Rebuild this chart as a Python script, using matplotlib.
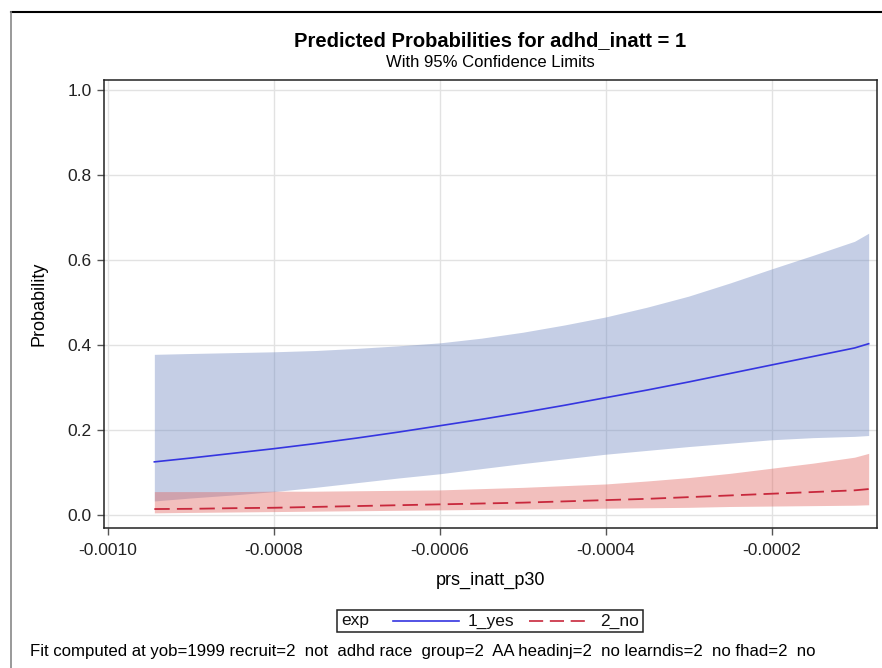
import matplotlib
matplotlib.use("Agg")
import matplotlib.pyplot as plt
from matplotlib.lines import Line2D
from matplotlib.offsetbox import AnchoredOffsetbox, HPacker, TextArea, DrawingArea
from matplotlib.ticker import FormatStrFormatter

plt.rcParams['font.family'] = ['Liberation Sans', 'DejaVu Sans']
plt.rcParams['axes.unicode_minus'] = False

# predictor values where the fitted curves were read
prs = [-0.000944, -0.0009, -0.00085, -0.0008, -0.00075, -0.0007, -0.00065,
       -0.0006, -0.00055, -0.0005, -0.00045, -0.0004, -0.00035, -0.0003,
       -0.00025, -0.0002, -0.00015, -0.0001, -0.000083]

# exp = 1_yes
yes_fit = [0.125, 0.134, 0.145, 0.156, 0.168, 0.181, 0.195, 0.210, 0.225,
           0.241, 0.258, 0.276, 0.294, 0.313, 0.333, 0.353, 0.373, 0.393, 0.403]
yes_lcl = [0.033, 0.040, 0.047, 0.055, 0.065, 0.076, 0.087, 0.097, 0.109,
           0.121, 0.132, 0.143, 0.152, 0.161, 0.169, 0.177, 0.182, 0.185, 0.187]
yes_ucl = [0.378, 0.380, 0.382, 0.384, 0.387, 0.392, 0.398, 0.405, 0.416,
           0.430, 0.447, 0.466, 0.489, 0.515, 0.546, 0.579, 0.611, 0.644, 0.663]

# exp = 2_no
no_fit = [0.014, 0.0145, 0.016, 0.017, 0.019, 0.021, 0.023, 0.025, 0.027,
          0.029, 0.032, 0.035, 0.038, 0.042, 0.046, 0.050, 0.054, 0.058, 0.061]
no_lcl = [0.005, 0.006, 0.007, 0.008, 0.009, 0.010, 0.011, 0.012, 0.013,
          0.014, 0.015, 0.016, 0.017, 0.018, 0.020, 0.021, 0.022, 0.023, 0.024]
no_ucl = [0.055, 0.055, 0.055, 0.056, 0.056, 0.057, 0.058, 0.059, 0.062,
          0.065, 0.069, 0.073, 0.080, 0.088, 0.098, 0.110, 0.122, 0.136, 0.145]

x_ticks = [-0.0010, -0.0008, -0.0006, -0.0004, -0.0002]
y_ticks = [0.0, 0.2, 0.4, 0.6, 0.8, 1.0]

footnote = ("Fit computed at yob=1999 recruit=2  not  adhd race  group=2  "
            "AA headinj=2  no learndis=2  no fhad=2  no")

blue_fill = '#6e86c0'
red_fill = '#e0605a'
blue_line = '#3535e0'
red_line = '#c8283c'

fig = plt.figure(figsize=(8.82, 6.68), dpi=100)
ax = fig.add_axes([0.1179, 0.2096, 0.8764, 0.6706])

ax.fill_between(prs, yes_lcl, yes_ucl, color=blue_fill, alpha=0.4, lw=0)
ax.fill_between(prs, no_lcl, no_ucl, color=red_fill, alpha=0.4, lw=0)
ax.plot(prs, yes_fit, color=blue_line, lw=1.2)
ax.plot(prs, no_fit, color=red_line, lw=1.3, dashes=(8.5, 4))

ax.set_xlim(-0.0010047, -0.000073)
ax.set_ylim(-0.0306, 1.0235)
ax.set_xticks(x_ticks)
ax.set_yticks(y_ticks)
ax.xaxis.set_major_formatter(FormatStrFormatter('%.4f'))
ax.yaxis.set_major_formatter(FormatStrFormatter('%.1f'))
ax.tick_params(direction='out', length=5, width=1, color='#555555',
               labelsize=12.5, labelcolor='#222222', pad=4)
ax.tick_params(axis='x', pad=6)
ax.grid(True, color='#e2e2e2', lw=1)
ax.set_axisbelow(True)
for sp in ax.spines.values():
    sp.set_color('#222222')
    sp.set_linewidth(1.1)

ax.set_xlabel('prs_inatt_p30', fontsize=13, labelpad=10)
ax.set_ylabel('Probability', fontsize=13, labelpad=14)

fig.text(0.5556, 0.940, 'Predicted Probabilities for adhd_inatt = 1',
         ha='center', va='center', fontsize=14.5, fontweight='bold')
fig.text(0.5556, 0.907, 'With 95% Confidence Limits',
         ha='center', va='center', fontsize=12)

# legend row: "exp" then the two line samples (DrawingArea sizes are in points)
def spacer(w):
    return DrawingArea(w, 1, 0, 0)

def sample(color, width, dashes=None):
    da = DrawingArea(width, 8, 0, 0)
    ln = Line2D([0, width], [4, 4], color=color, lw=1.2)
    if dashes:
        ln.set_dashes(dashes)
    da.add_artist(ln)
    return da

txt = dict(fontsize=12.5, color='#111111')
row = HPacker(children=[TextArea('exp', textprops=txt), spacer(17),
                        sample(blue_line, 48), spacer(6),
                        TextArea('1_yes', textprops=txt), spacer(11),
                        sample(red_line, 43, (8.5, 4)), spacer(8),
                        TextArea('2_no', textprops=txt)],
              align='center', pad=0, sep=0)
box = AnchoredOffsetbox(loc='center', child=row, pad=0.25, borderpad=0,
                        frameon=True, bbox_to_anchor=(0.5556, 0.0704),
                        bbox_transform=fig.transFigure)
box.patch.set_edgecolor('#222222')
box.patch.set_linewidth(1.1)
fig.add_artist(box)

fig.text(0.034, 0.025, footnote, ha='left', va='center', fontsize=12.1)

# page frame
fig.add_artist(Line2D([0.0125, 1.0], [0.982, 0.982], color='black', lw=1.5,
                      transform=fig.transFigure))
fig.add_artist(Line2D([0.0125, 0.0125], [0.0, 0.982], color='#888888', lw=1.2,
                      transform=fig.transFigure))

fig.savefig('out.png', dpi=100)
